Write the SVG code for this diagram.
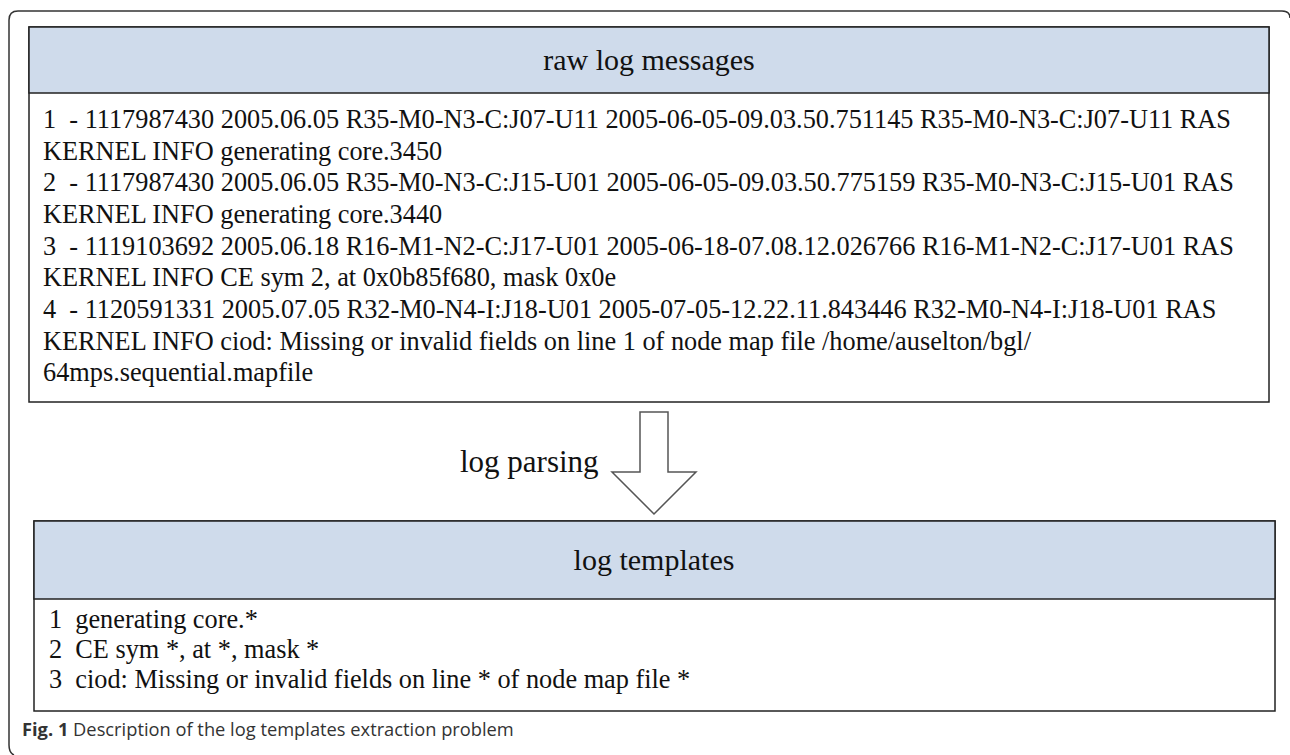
<svg xmlns="http://www.w3.org/2000/svg" width="1290" height="755" viewBox="0 0 1290 755">
  <style>
    .frame { fill: none; stroke: #333; stroke-width: 1.5; }
    .box { fill: #ffffff; stroke: #222; stroke-width: 1.5; }
    .head { fill: #cfdbeb; stroke: #222; stroke-width: 1.5; }
    .title { font-family: "Liberation Serif", "Times New Roman", serif; font-size: 30px; fill: #111; text-anchor: middle; }
    .body { font-family: "Liberation Serif", "Times New Roman", serif; font-size: 26.3px; fill: #111; }
    .label { font-family: "Liberation Serif", "Times New Roman", serif; font-size: 31px; fill: #111; }
    .arrow { fill: #ffffff; stroke: #555; stroke-width: 1.5; stroke-linejoin: miter; }
    .cap { font-family: "Open Sans", "Noto Sans", sans-serif; font-size: 18.3px; fill: #333; }
  </style>

  <!-- page frame: top and left edges with rounded corners -->
  <path class="frame" d="M1290,18 Q1290,11 1282,11 L18,11 Q9,11 9,20 L9,745 Q9,753 14,755"/>

  <!-- raw log messages -->
  <g id="raw-log-messages">
    <rect class="box" x="29" y="27" width="1240" height="375"/>
    <rect class="head" x="29" y="27" width="1240" height="66"/>
    <text class="title" x="649" y="70">raw log messages</text>
    <text class="body" xml:space="preserve">
      <tspan x="43" y="128">1  - 1117987430 2005.06.05 R35-M0-N3-C:J07-U11 2005-06-05-09.03.50.751145 R35-M0-N3-C:J07-U11 RAS</tspan>
      <tspan x="43" y="160">KERNEL INFO generating core.3450</tspan>
      <tspan x="43" y="191">2  - 1117987430 2005.06.05 R35-M0-N3-C:J15-U01 2005-06-05-09.03.50.775159 R35-M0-N3-C:J15-U01 RAS</tspan>
      <tspan x="43" y="223">KERNEL INFO generating core.3440</tspan>
      <tspan x="43" y="255">3  - 1119103692 2005.06.18 R16-M1-N2-C:J17-U01 2005-06-18-07.08.12.026766 R16-M1-N2-C:J17-U01 RAS</tspan>
      <tspan x="43" y="286">KERNEL INFO CE sym 2, at 0x0b85f680, mask 0x0e</tspan>
      <tspan x="43" y="318">4  - 1120591331 2005.07.05 R32-M0-N4-I:J18-U01 2005-07-05-12.22.11.843446 R32-M0-N4-I:J18-U01 RAS</tspan>
      <tspan x="43" y="350">KERNEL INFO ciod: Missing or invalid fields on line 1 of node map file /home/auselton/bgl/</tspan>
      <tspan x="43" y="381">64mps.sequential.mapfile</tspan>
    </text>
  </g>

  <!-- parsing step -->
  <g id="connectors">
    <polygon class="arrow" points="640,412 668,412 668,472 696,472 654,514 612,472 640,472"/>
    <text class="label" x="460" y="472">log parsing</text>
  </g>

  <!-- log templates -->
  <g id="log-templates">
    <rect class="box" x="34" y="521" width="1241" height="190"/>
    <rect class="head" x="34" y="521" width="1241" height="78"/>
    <text class="title" x="654" y="570">log templates</text>
    <text class="body" xml:space="preserve">
      <tspan x="49" y="628">1  generating core.*</tspan>
      <tspan x="49" y="658">2  CE sym *, at *, mask *</tspan>
      <tspan x="49" y="688">3  ciod: Missing or invalid fields on line * of node map file *</tspan>
    </text>
  </g>

  <!-- caption -->
  <text class="cap" x="22" y="736"><tspan font-weight="bold">Fig. 1</tspan> Description of the log templates extraction problem</text>
</svg>
